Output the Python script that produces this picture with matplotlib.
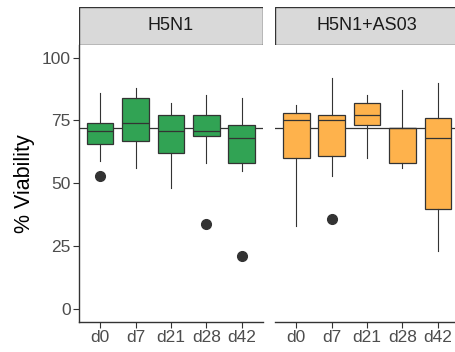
import matplotlib
matplotlib.use("Agg")
import matplotlib.pyplot as plt
from matplotlib.patches import Rectangle

plt.rcParams['font.family'] = ['Liberation Sans', 'DejaVu Sans']

days = ["d0", "d7", "d21", "d28", "d42"]
groups = ["H5N1", "H5N1+AS03"]
colors = {"H5N1": "#31a354", "H5N1+AS03": "#feb24c"}
ref_line = 72

# box stats: whisker low, q1, median, q3, whisker high, outliers
whislo = {"H5N1": [59, 56, 48, 58, 55],
          "H5N1+AS03": [33, 53, 60, 56, 23]}
q1 = {"H5N1": [65.7, 67, 62, 69, 58],
      "H5N1+AS03": [60, 61, 73, 58, 40]}
med = {"H5N1": [71, 74, 71, 71, 68],
       "H5N1+AS03": [75, 75, 77, 72, 68]}
q3 = {"H5N1": [74, 84, 77, 77, 73],
      "H5N1+AS03": [78, 77, 82, 72, 76]}
whishi = {"H5N1": [86, 88, 82, 85, 84],
          "H5N1+AS03": [81, 92, 85, 87, 90]}
fliers = {"H5N1": [[53], [], [], [34], [21]],
          "H5N1+AS03": [[], [36], [], [], []]}

fig = plt.figure(figsize=(4.56, 3.52), dpi=100)
W, H = 456, 352
ax_w = 184 / W
bottom = (H - 321.7) / H
height = (321.7 - 45) / H
lefts = [79 / W, 275 / W]

tick_col = "#4d4d4d"
for i, g in enumerate(groups):
    ax = fig.add_axes([lefts[i], bottom, ax_w, height])
    stats = []
    for j, d in enumerate(days):
        stats.append(dict(whislo=whislo[g][j], q1=q1[g][j], med=med[g][j],
                          q3=q3[g][j], whishi=whishi[g][j], fliers=fliers[g][j]))
    ax.axhline(ref_line, color="#333333", lw=0.9, zorder=1)
    ax.bxp(stats, positions=range(1, 6), widths=0.75, patch_artist=True,
           showcaps=False,
           boxprops=dict(facecolor=colors[g], edgecolor="#333333", lw=0.9),
           medianprops=dict(color="#333333", lw=0.9),
           whiskerprops=dict(color="#333333", lw=0.8),
           flierprops=dict(marker="o", markerfacecolor="#333333",
                           markeredgecolor="#333333", markersize=7),
           zorder=2)
    ax.set_xlim(0.4, 5.6)
    ax.set_ylim(-5, 105)
    ax.set_xticks(range(1, 6))
    ax.set_xticklabels(days)
    ax.set_yticks([0, 25, 50, 75, 100])
    for s in ["top", "right"]:
        ax.spines[s].set_visible(False)
    ax.spines["bottom"].set_color("#333333")
    ax.spines["bottom"].set_linewidth(1.0)
    ax.tick_params(axis="both", colors="#333333", labelcolor=tick_col,
                   labelsize=12.5, length=4, width=0.8, pad=2)
    if i == 0:
        ax.spines["left"].set_color("#333333")
        ax.spines["left"].set_linewidth(1.0)
        ax.set_ylabel("% Viability", fontsize=15.5, color="black", labelpad=5)
    else:
        ax.spines["left"].set_visible(False)
        ax.tick_params(axis="y", left=False, labelleft=False)

    # facet strip
    strip = fig.add_axes([lefts[i], (H - 45) / H, ax_w, 38 / H])
    strip.set_xticks([])
    strip.set_yticks([])
    strip.add_patch(Rectangle((0, 0), 1, 1, transform=strip.transAxes,
                              facecolor="#d9d9d9", edgecolor="#333333", lw=1.0))
    for s in strip.spines.values():
        s.set_visible(False)
    strip.text(0.5, 0.5, g, ha="center", va="center", fontsize=13,
               color="#1a1a1a", transform=strip.transAxes)

fig.savefig("out.png", dpi=100)
